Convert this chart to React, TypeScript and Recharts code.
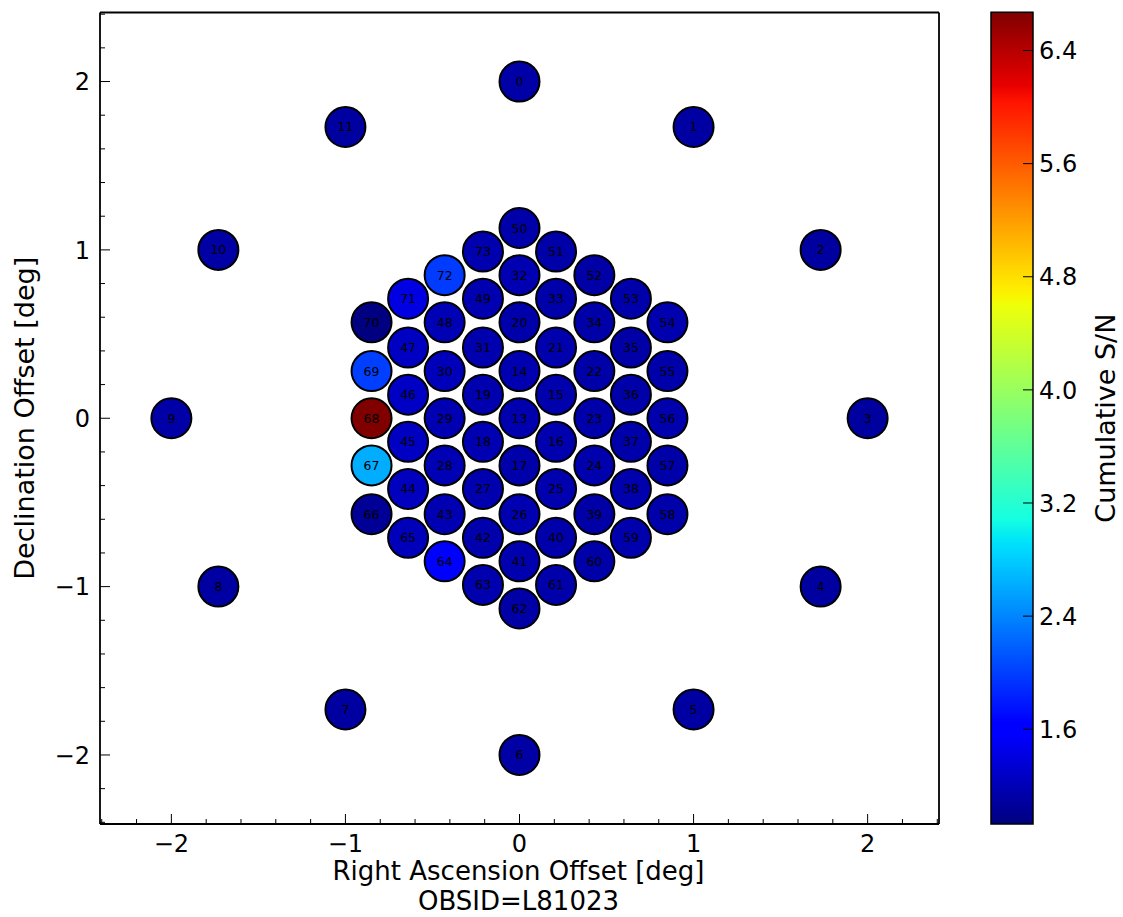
import React from "react";
import { ScatterChart, Scatter, XAxis, YAxis, Label, BarChart, Bar } from "recharts";

// beam numbers, offsets (deg) and cumulative S/N
const beamIds = [
  0, 1, 2, 3, 4, 5, 6, 7, 8, 9, 10, 11,
  13, 14, 15, 16, 17, 18, 19, 20, 21, 22, 23, 24, 25, 26, 27, 28, 29, 30,
  31, 32, 33, 34, 35, 36, 37, 38, 39, 40, 41, 42, 43, 44, 45, 46, 47, 48,
  49, 50, 51, 52, 53, 54, 55, 56, 57, 58, 59, 60, 61, 62, 63, 64, 65, 66,
  67, 68, 69, 70, 71, 72, 73,
];
const beamRa = [
  0, 1, 1.73, 2, 1.73, 1, 0, -1, -1.73, -2, -1.73, -1,
  0, 0, 0.21, 0.21, 0, -0.21, -0.21, 0, 0.21, 0.43, 0.43, 0.43, 0.21, 0, -0.21, -0.43, -0.43, -0.43,
  -0.21, 0, 0.21, 0.43, 0.64, 0.64, 0.64, 0.64, 0.43, 0.21, 0, -0.21, -0.43, -0.64, -0.64, -0.64, -0.64, -0.43,
  -0.21, 0, 0.21, 0.43, 0.64, 0.85, 0.85, 0.85, 0.85, 0.85, 0.64, 0.43, 0.21, 0, -0.21, -0.43, -0.64, -0.85,
  -0.85, -0.85, -0.85, -0.85, -0.64, -0.43, -0.21,
];
const beamDec = [
  2, 1.73, 1, 0, -1, -1.73, -2, -1.73, -1, 0, 1, 1.73,
  0, 0.28, 0.14, -0.14, -0.28, -0.14, 0.14, 0.57, 0.42, 0.28, 0, -0.28, -0.42, -0.57, -0.42, -0.28, 0, 0.28,
  0.42, 0.85, 0.71, 0.57, 0.42, 0.14, -0.14, -0.42, -0.57, -0.71, -0.85, -0.71, -0.57, -0.42, -0.14, 0.14, 0.42, 0.57,
  0.71, 1.13, 0.99, 0.85, 0.71, 0.57, 0.28, 0, -0.28, -0.57, -0.71, -0.85, -0.99, -1.13, -0.99, -0.85, -0.71, -0.57,
  -0.28, 0, 0.28, 0.57, 0.71, 0.85, 0.99,
];
const beamSnr = [
  1.12, 1.1, 1.09, 1.08, 1.09, 1.1, 1.11, 1.09, 1.1, 1.12, 1.11, 1.09,
  1.16, 1.17, 1.15, 1.16, 1.14, 1.18, 1.16, 1.14, 1.15, 1.13, 1.14, 1.15, 1.16, 1.17, 1.16, 1.19, 1.18, 1.22,
  1.16, 1.18, 1.14, 1.13, 1.12, 1.13, 1.14, 1.15, 1.12, 1.14, 1.16, 1.15, 1.18, 1.24, 1.26, 1.27, 1.26, 1.19,
  1.17, 1.14, 1.13, 1.12, 1.14, 1.16, 1.14, 1.15, 1.13, 1.14, 1.15, 1.13, 1.14, 1.12, 1.16, 1.58, 1.22, 1.04,
  2.62, 6.67, 2.0, 0.93, 1.42, 1.98, 1.16,
];

// tick positions for the offset axes (labels only on whole degrees)
const offsetTicks = [
  -2.4, -2.2, -2, -1.8, -1.6, -1.4, -1.2, -1, -0.8, -0.6, -0.4, -0.2, 0,
  0.2, 0.4, 0.6, 0.8, 1, 1.2, 1.4, 1.6, 1.8, 2, 2.2, 2.4,
];
const colorbarTicks = [1.6, 2.4, 3.2, 4.0, 4.8, 5.6, 6.4];
const offsetDomain = [-2.41, 2.41];

const beams = beamIds.map((id, i) => ({
  id,
  ra: beamRa[i],
  dec: beamDec[i],
  snr: beamSnr[i],
}));

const snrMin = Math.min(...beamSnr);
const snrMax = Math.max(...beamSnr);
const colorbarData = [{ name: "snr", range: [snrMin, snrMax] }];

// matplotlib "jet" segment data
const JET: Record<string, number[][]> = {
  r: [[0, 0], [0.35, 0], [0.66, 1], [0.89, 1], [1, 0.5]],
  g: [[0, 0], [0.125, 0], [0.375, 1], [0.64, 1], [0.91, 0], [1, 0]],
  b: [[0, 0.5], [0.11, 1], [0.34, 1], [0.65, 0], [1, 0]],
};
const jetStops = [0, 0.11, 0.125, 0.34, 0.35, 0.375, 0.64, 0.65, 0.66, 0.89, 0.91, 1];

function channel(pts: number[][], v: number) {
  for (let i = 1; i < pts.length; i++) {
    if (v <= pts[i][0]) {
      const [x0, y0] = pts[i - 1];
      const [x1, y1] = pts[i];
      return y0 + ((v - x0) / (x1 - x0)) * (y1 - y0);
    }
  }
  return pts[pts.length - 1][1];
}

function jet(v: number) {
  const t = Math.max(0, Math.min(1, v));
  const c = (k: string) => Math.round(channel(JET[k], t) * 255);
  return `rgb(${c("r")},${c("g")},${c("b")})`;
}

const snrColor = (snr: number) => jet((snr - snrMin) / (snrMax - snrMin));

const FONT = "DejaVu Sans, sans-serif";
const TICK_FONT = 24;
const LABEL_FONT = 27;

const isMajor = (v: number) => Math.abs(v - Math.round(v)) < 1e-6;
const fmtOffset = (v: number) => (v < 0 ? "\u2212" + Math.abs(v) : String(v));
const tickLen = (v: number) => (isMajor(v) ? 10 : 5);

const BottomTick = ({ x, y, payload }: any) => (
  <g>
    <line x1={x} x2={x} y1={y} y2={y - tickLen(payload.value)} stroke="#000" strokeWidth={1} />
    {isMajor(payload.value) && (
      <text x={x} y={y + 28} textAnchor="middle" fontSize={TICK_FONT} fontFamily={FONT} fill="#000">
        {fmtOffset(payload.value)}
      </text>
    )}
  </g>
);

const TopTick = ({ x, y, payload }: any) => (
  <line x1={x} x2={x} y1={y} y2={y + tickLen(payload.value)} stroke="#000" strokeWidth={1} />
);

const LeftTick = ({ x, y, payload }: any) => (
  <g>
    <line x1={x} x2={x + tickLen(payload.value)} y1={y} y2={y} stroke="#000" strokeWidth={1} />
    {isMajor(payload.value) && (
      <text x={x - 10} y={y} dy="0.36em" textAnchor="end" fontSize={TICK_FONT} fontFamily={FONT} fill="#000">
        {fmtOffset(payload.value)}
      </text>
    )}
  </g>
);

const RightTick = ({ x, y, payload }: any) => (
  <line x1={x} x2={x - tickLen(payload.value)} y1={y} y2={y} stroke="#000" strokeWidth={1} />
);

const ColorbarTick = ({ x, y, payload }: any) => (
  <g>
    <line x1={x} x2={x - 10} y1={y} y2={y} stroke="#000" strokeWidth={1} />
    <text x={x + 6} y={y} dy="0.36em" textAnchor="start" fontSize={TICK_FONT} fontFamily={FONT} fill="#000">
      {payload.value.toFixed(1)}
    </text>
  </g>
);

const BeamShape = (props: any) => {
  const { cx, cy, payload } = props;
  return (
    <g>
      <circle cx={cx} cy={cy} r={20} fill={snrColor(payload.snr)} stroke="#000" strokeWidth={2} />
      <text x={cx} y={cy} dy="0.36em" textAnchor="middle" fontSize={12.5} fontFamily={FONT} fill="#000">
        {payload.id}
      </text>
    </g>
  );
};

// two-line caption under the RA axis
const XTitle = ({ viewBox }: any) => {
  const cx = viewBox.x + viewBox.width / 2 - 1;
  return (
    <g>
      <text x={cx} y={880} textAnchor="middle" fontSize={26} fontFamily={FONT} fill="#000">
        Right Ascension Offset [deg]
      </text>
      <text x={cx} y={910} textAnchor="middle" fontSize={26} fontFamily={FONT} fill="#000">
        OBSID=L81023
      </text>
    </g>
  );
};

const YTitle = ({ viewBox }: any) => {
  const cy = viewBox.y + viewBox.height / 2;
  return (
    <text
      x={24}
      y={cy}
      dy="0.36em"
      transform={`rotate(-90 24 ${cy})`}
      textAnchor="middle"
      fontSize={LABEL_FONT}
      fontFamily={FONT}
      fill="#000"
    >
      Declination Offset [deg]
    </text>
  );
};

const ColorbarTitle = ({ viewBox }: any) => {
  const cy = viewBox.y + viewBox.height / 2;
  const cx = 145;
  return (
    <text
      x={cx}
      y={cy}
      dy="0.36em"
      transform={`rotate(-90 ${cx} ${cy})`}
      textAnchor="middle"
      fontSize={LABEL_FONT}
      fontFamily={FONT}
      fill="#000"
    >
      Cumulative S/N
    </text>
  );
};

const BeamMap = () => (
  <ScatterChart width={960} height={917} margin={{ top: 11.5, right: 20, bottom: 33, left: 0 }}>
    <XAxis
      xAxisId="bottom"
      type="number"
      dataKey="ra"
      domain={offsetDomain}
      ticks={offsetTicks}
      interval={0}
      height={60}
      tickSize={0}
      tickMargin={0}
      tickLine={false}
      tick={BottomTick}
      axisLine={{ stroke: "#000", strokeWidth: 1.8 }}
    >
      <Label content={XTitle} />
    </XAxis>
    <XAxis
      xAxisId="top"
      orientation="top"
      type="number"
      domain={offsetDomain}
      ticks={offsetTicks}
      interval={0}
      height={1}
      tickSize={0}
      tickMargin={0}
      tickLine={false}
      tick={TopTick}
      axisLine={{ stroke: "#000", strokeWidth: 1.8 }}
    />
    <YAxis
      yAxisId="left"
      type="number"
      dataKey="dec"
      domain={offsetDomain}
      ticks={offsetTicks}
      interval={0}
      width={100}
      tickSize={0}
      tickMargin={0}
      tickLine={false}
      tick={LeftTick}
      axisLine={{ stroke: "#000", strokeWidth: 1.8 }}
    >
      <Label content={YTitle} />
    </YAxis>
    <YAxis
      yAxisId="right"
      orientation="right"
      type="number"
      domain={offsetDomain}
      ticks={offsetTicks}
      interval={0}
      width={1}
      tickSize={0}
      tickMargin={0}
      tickLine={false}
      tick={RightTick}
      axisLine={{ stroke: "#000", strokeWidth: 1.8 }}
    />
    <Scatter
      data={beams}
      xAxisId="bottom"
      yAxisId="left"
      shape={BeamShape}
      isAnimationActive={false}
    />
  </ScatterChart>
);

const Colorbar = () => (
  <BarChart
    width={163}
    height={917}
    data={colorbarData}
    margin={{ top: 12.3, right: 89, bottom: 93, left: 31 }}
    barCategoryGap={0}
    barGap={0}
  >
    <defs>
      <linearGradient id="jetGradient" x1="0" y1="1" x2="0" y2="0">
        {jetStops.map((s) => (
          <stop key={s} offset={s} stopColor={jet(s)} />
        ))}
      </linearGradient>
    </defs>
    <XAxis dataKey="name" type="category" hide />
    <YAxis
      orientation="right"
      type="number"
      domain={[snrMin, snrMax]}
      ticks={colorbarTicks}
      interval={0}
      width={1}
      tickSize={0}
      tickMargin={0}
      tickLine={false}
      axisLine={false}
      tick={ColorbarTick}
    >
      <Label content={ColorbarTitle} />
    </YAxis>
    <Bar
      dataKey="range"
      fill="url(#jetGradient)"
      stroke="#000"
      strokeWidth={1.5}
      isAnimationActive={false}
    />
  </BarChart>
);

export default function App() {
  return (
    <div
      style={{
        position: "absolute",
        left: 0,
        top: 0,
        width: 1123,
        height: 917,
        background: "#fff",
        fontFamily: FONT,
      }}
    >
      <div style={{ position: "absolute", left: 0, top: 0 }}>
        <BeamMap />
      </div>
      <div style={{ position: "absolute", left: 960, top: 0 }}>
        <Colorbar />
      </div>
    </div>
  );
}
